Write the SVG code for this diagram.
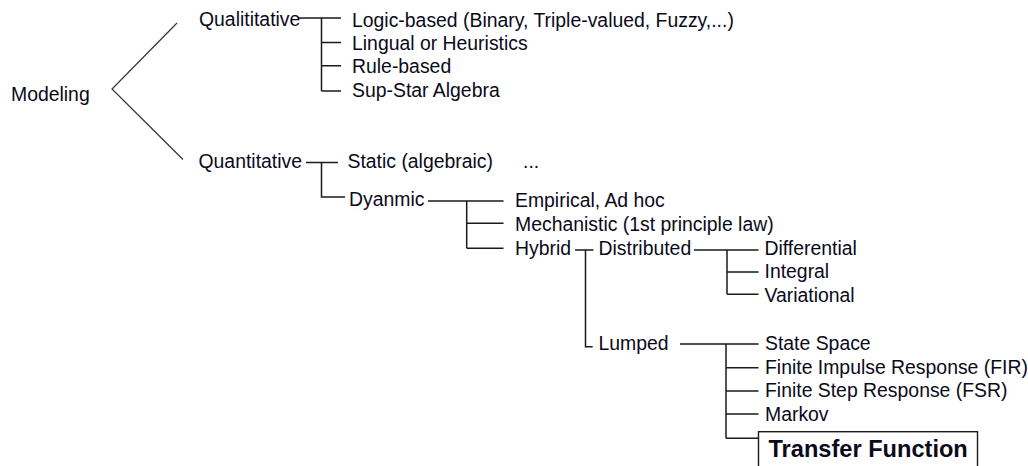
<svg xmlns="http://www.w3.org/2000/svg" width="1028" height="466" viewBox="0 0 1028 466">
<style>
text{font-family:"Liberation Sans",Arial,sans-serif;font-size:19.4px;fill:#0a0a1a}
.b{font-weight:bold;font-size:23.6px}
.c{fill:none;stroke:#1a1a1a;stroke-width:1.5}
.a{fill:none;stroke:#333;stroke-width:1.2}
</style>
<rect width="1028" height="466" fill="#fff"/>
<g id="connectors">
<polyline class="a" points="177,23 112,89 183,159.5"/>
<path class="c" d="M299,18H341M321.5,18V91M321.5,42.5H341M321.5,65.7H341M321.5,91H341"/>
<path class="c" d="M306,162.5H338M321.5,162.5V197H345"/>
<path class="c" d="M428,201H503.5M466.7,201V248.3M466.7,223.3H503.5M466.7,248.3H503.5"/>
<path class="c" d="M575,250H593.5M585.5,250V346.7H592.7"/>
<path class="c" d="M694,250H758.5M727,250V294.3M727,272H758.5M727,294.3H758.5"/>
<path class="c" d="M680,344H758.5M726,344V438.3M726,367.7H758.5M726,391H758.5M726,414H758.5M726,438.3H758.5"/>
</g>
<g id="modeling"><text x="11" y="101">Modeling</text></g>
<g id="qualitative"><text x="199" y="26">Qualititative</text></g>
<g id="logic"><text x="352" y="26.5">Logic-based (Binary, Triple-valued, Fuzzy,...)</text></g>
<g id="lingual"><text x="352" y="50">Lingual or Heuristics</text></g>
<g id="rule"><text x="352" y="73.3">Rule-based</text></g>
<g id="supstar"><text x="352" y="97.3">Sup-Star Algebra</text></g>
<g id="quantitative"><text x="198.5" y="168.3">Quantitative</text></g>
<g id="static"><text x="347.5" y="168.3">Static (algebraic)</text><text x="523" y="168.3">...</text></g>
<g id="dynamic"><text x="349" y="205.7">Dyanmic</text></g>
<g id="empirical"><text x="515" y="207.3">Empirical, Ad hoc</text></g>
<g id="mechanistic"><text x="515" y="230.7">Mechanistic (1st principle law)</text></g>
<g id="hybrid"><text x="515" y="255">Hybrid</text></g>
<g id="distributed"><text x="598.5" y="255">Distributed</text></g>
<g id="differential"><text x="764.5" y="255">Differential</text></g>
<g id="integral"><text x="764.5" y="278.3">Integral</text></g>
<g id="variational"><text x="764.5" y="301.5">Variational</text></g>
<g id="lumped"><text x="598.5" y="350">Lumped</text></g>
<g id="statespace"><text x="765" y="350">State Space</text></g>
<g id="fir"><text x="765" y="374">Finite Impulse Response (FIR)</text></g>
<g id="fsr"><text x="765" y="397.3">Finite Step Response (FSR)</text></g>
<g id="markov"><text x="765" y="420.7">Markov</text></g>
<g id="transfer"><rect x="758.5" y="431.7" width="219" height="44" fill="#fff" stroke="#1a1a1a" stroke-width="1.4"/><text class="b" x="768.5" y="456.7">Transfer Function</text></g>
</svg>
